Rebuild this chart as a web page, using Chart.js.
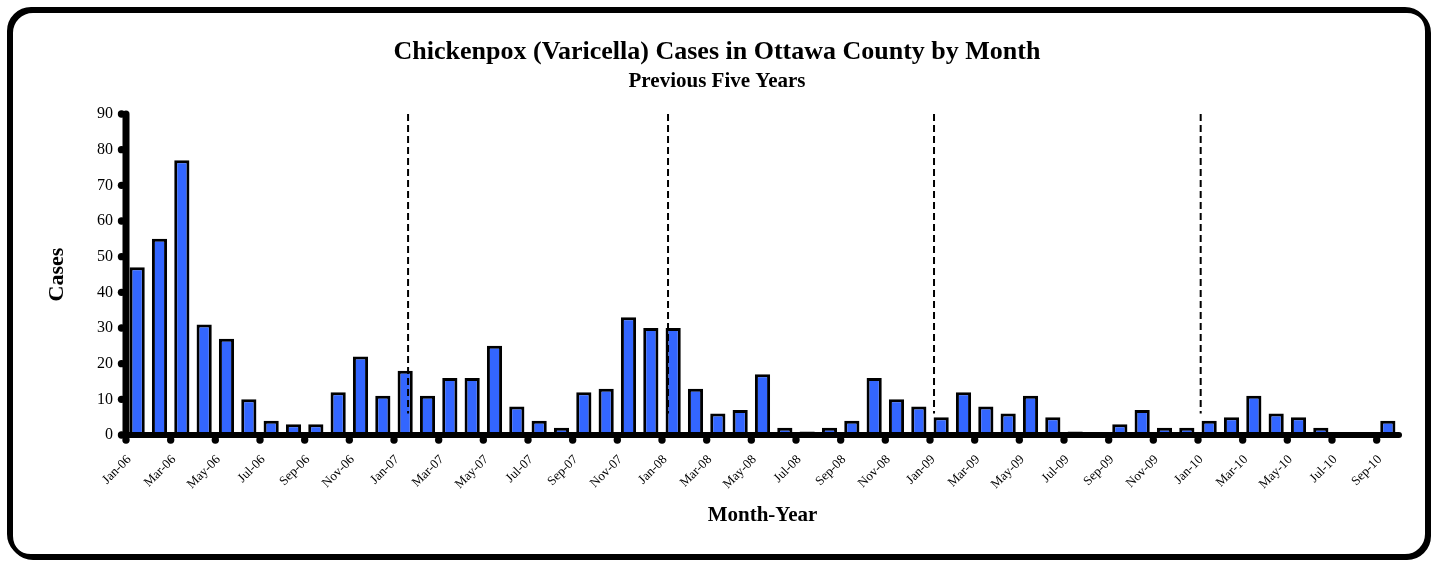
<!DOCTYPE html>
<html>
<head>
<meta charset="utf-8">
<script src="https://cdn.jsdelivr.net/npm/chart.js@4.4.1/dist/chart.umd.min.js"></script>
<style>
html,body{margin:0;padding:0;background:#fff;overflow:hidden}
canvas{display:block}
</style>
</head>
<body>
<canvas id="c" width="1434" height="562"></canvas>
<script>
// ---- data ----
const months = [
  'Jan-06','Feb-06','Mar-06','Apr-06','May-06','Jun-06','Jul-06','Aug-06','Sep-06','Oct-06','Nov-06','Dec-06',
  'Jan-07','Feb-07','Mar-07','Apr-07','May-07','Jun-07','Jul-07','Aug-07','Sep-07','Oct-07','Nov-07','Dec-07',
  'Jan-08','Feb-08','Mar-08','Apr-08','May-08','Jun-08','Jul-08','Aug-08','Sep-08','Oct-08','Nov-08','Dec-08',
  'Jan-09','Feb-09','Mar-09','Apr-09','May-09','Jun-09','Jul-09','Aug-09','Sep-09','Oct-09','Nov-09','Dec-09',
  'Jan-10','Feb-10','Mar-10','Apr-10','May-10','Jun-10','Jul-10','Aug-10','Sep-10'
];
const cases = [
  47,55,77,31,27,10,4,3,3,12,22,11,
  18,11,16,16,25,8,4,2,12,13,33,30,
  30,13,6,7,17,2,1,2,4,16,10,8,
  5,12,8,6,11,5,1,0,3,7,2,2,
  4,5,11,6,5,2,0,0,4
];
const yTicks = [0,10,20,30,40,50,60,70,80,90];
// year separator marks (in months from start of Jan-06) and their vertical span (cases)
const yearMarks = [12.63, 24.27, 36.18, 48.12];
const yearMarkSpan = [6, 90];

const chartTitle = 'Chickenpox (Varicella) Cases in Ottawa County by Month';
const chartSubtitle = 'Previous Five Years';
const xTitle = 'Month-Year';
const yTitle = 'Cases';

const SERIF = "'Liberation Serif', 'Times New Roman', serif";

const decor = {
  id: 'decor',
  beforeDraw(chart) {
    const ctx = chart.ctx;
    ctx.save();
    ctx.fillStyle = '#fff';
    ctx.fillRect(0, 0, chart.width, chart.height);
    ctx.strokeStyle = '#000';
    ctx.lineWidth = 4;
    ctx.beginPath();
    ctx.roundRect(11, 11, 1418, 547, 22);
    ctx.stroke();
    ctx.beginPath();
    ctx.roundRect(9, 9, 1418, 547, 22);
    ctx.stroke();
    ctx.restore();
  },
  afterDatasetsDraw(chart) {
    const ctx = chart.ctx;
    const a = chart.chartArea;
    const xs = chart.scales.x, ys = chart.scales.y;
    const cw = xs.getPixelForValue(1) - xs.getPixelForValue(0);
    const x0 = xs.getPixelForValue(0) - cw / 2;
    ctx.save();
    // dashed year separators
    ctx.strokeStyle = '#000';
    ctx.lineWidth = 2;
    ctx.setLineDash([7, 4]);
    yearMarks.forEach(m => {
      const px = x0 + m * cw;
      ctx.beginPath();
      ctx.moveTo(px, ys.getPixelForValue(yearMarkSpan[1]));
      ctx.lineTo(px, ys.getPixelForValue(yearMarkSpan[0]));
      ctx.stroke();
    });
    ctx.setLineDash([]);
    // axes
    ctx.lineCap = 'round';
    ctx.lineWidth = 7;
    ctx.beginPath();
    ctx.moveTo(a.left, a.top);
    ctx.lineTo(a.left, a.bottom);
    ctx.stroke();
    ctx.lineWidth = 6;
    ctx.beginPath();
    ctx.moveTo(a.left, a.bottom);
    ctx.lineTo(a.right, a.bottom);
    ctx.stroke();
    // tick dots
    ctx.fillStyle = '#000';
    yTicks.forEach(v => {
      ctx.beginPath();
      ctx.arc(a.left - 4.5, ys.getPixelForValue(v), 3.7, 0, Math.PI * 2);
      ctx.fill();
    });
    months.forEach((m, i) => {
      if (i % 2 !== 0) return;
      ctx.beginPath();
      ctx.arc(x0 + i * cw, a.bottom + 5, 3.7, 0, Math.PI * 2);
      ctx.fill();
    });
    ctx.restore();
  }
};

new Chart(document.getElementById('c'), {
  type: 'bar',
  data: {
    labels: months,
    datasets: [{
      data: cases,
      backgroundColor: '#3366FF',
      borderColor: '#000',
      borderWidth: 3,
      barPercentage: 0.68,
      categoryPercentage: 1.0
    }]
  },
  options: {
    responsive: false,
    animation: false,
    devicePixelRatio: 1,
    layout: { padding: { left: 35, right: 35, top: 0, bottom: 0 } },
    plugins: {
      legend: { display: false },
      tooltip: { enabled: false },
      title: {
        display: true, text: chartTitle, color: '#000',
        font: { family: SERIF, size: 26, weight: 'bold' },
        padding: { top: 36.5, bottom: 0 }
      },
      subtitle: {
        display: true, text: chartSubtitle, color: '#000',
        font: { family: SERIF, size: 21, weight: 'bold' },
        padding: { top: 1.6, bottom: 19.5 }
      }
    },
    scales: {
      x: {
        offset: true,
        grid: { display: false, drawTicks: false },
        border: { display: false },
        ticks: {
          autoSkip: false, minRotation: 45, maxRotation: 45,
          color: '#000', font: { family: SERIF, size: 13 },
          padding: 17, labelOffset: -8,
          callback: (v, i) => (i % 2 === 0 ? months[i] : '')
        },
        title: {
          display: true, text: xTitle, color: '#000',
          font: { family: SERIF, size: 21, weight: 'bold' },
          padding: { top: 0, bottom: 34 }
        },
        afterFit(s) { s.height = 127; }
      },
      y: {
        min: 0, max: 90,
        grid: { display: false, drawTicks: false },
        border: { display: false },
        ticks: {
          stepSize: 10, color: '#000', font: { family: SERIF, size: 16 }, padding: 13
        },
        title: {
          display: true, text: yTitle, color: '#000',
          font: { family: SERIF, size: 22, weight: 'bold' },
          padding: { top: 9, bottom: 0 }
        },
        afterFit(s) { s.width = 91; }
      }
    }
  },
  plugins: [decor]
});
</script>
</body>
</html>
